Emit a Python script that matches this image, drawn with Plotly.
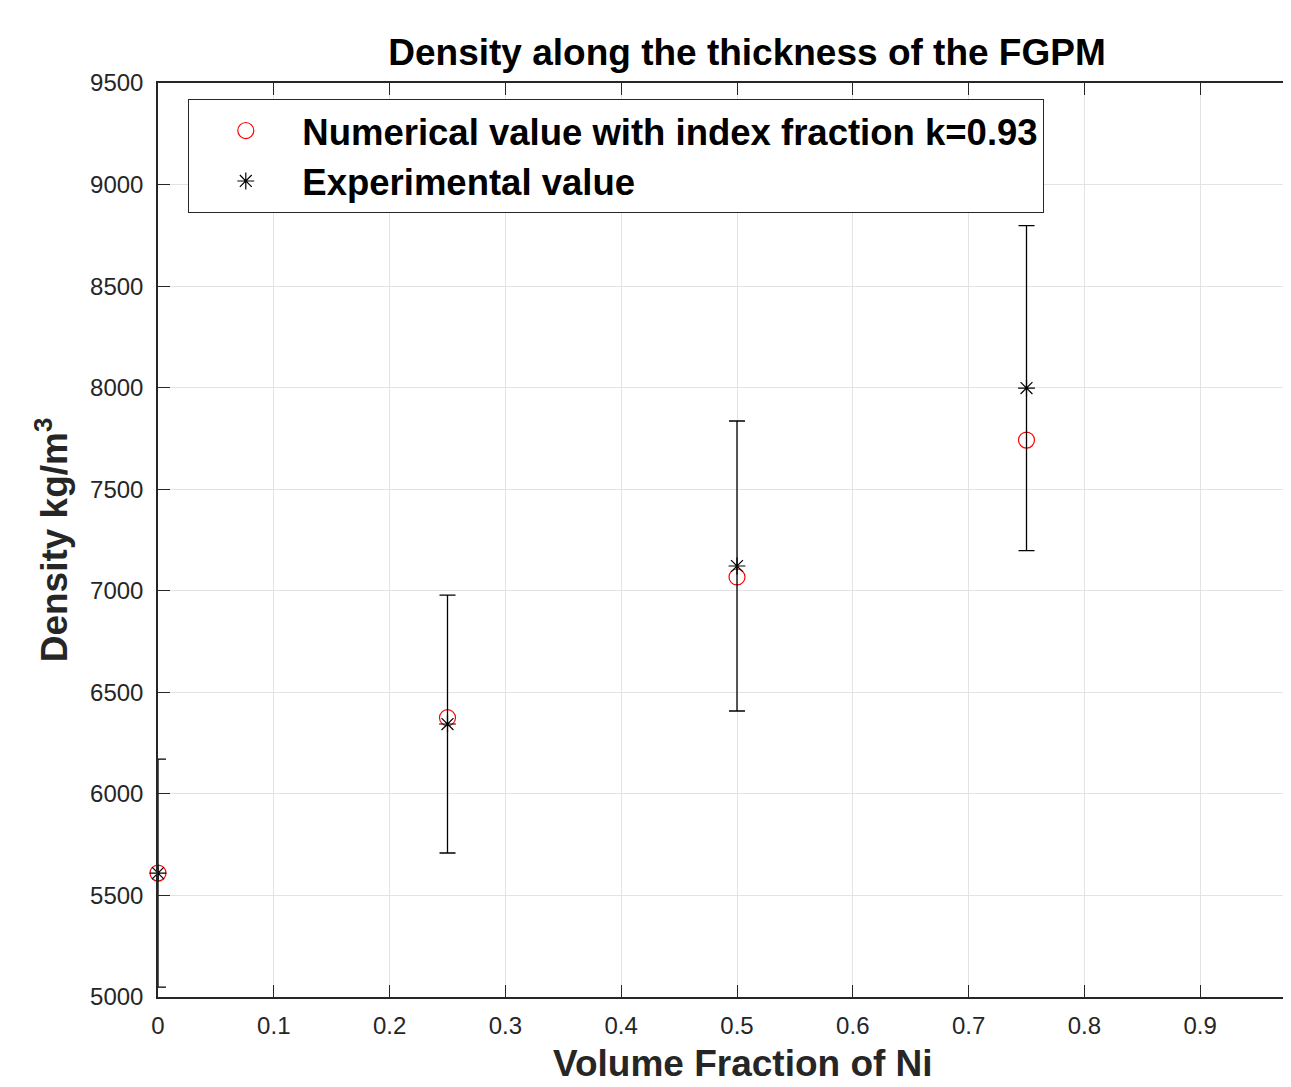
import plotly.graph_objects as go

vol_frac = [0, 0.25, 0.5, 0.75]
numerical = [5610, 6375, 7068, 7742]
experimental = [5610, 6344, 7122, 7998]
exp_error = [561, 635, 714, 800]

x_ticks = [0, 0.1, 0.2, 0.3, 0.4, 0.5, 0.6, 0.7, 0.8, 0.9]
x_tick_labels = ["0", "0.1", "0.2", "0.3", "0.4", "0.5", "0.6", "0.7", "0.8", "0.9"]
y_ticks = [5000, 5500, 6000, 6500, 7000, 7500, 8000, 8500, 9000, 9500]

OFF = 8  # page body margin
W, H = 1291 - OFF, 1087 - OFF
L, R, T, B = 158 - OFF, 0, 83 - OFF, 1087 - 997
PW, PH = W - L - R, H - T - B

fig = go.Figure()
fig.add_trace(go.Scatter(
    x=vol_frac, y=numerical, mode="markers",
    name="Numerical value with index fraction k=0.93",
    cliponaxis=False,
    marker=dict(symbol="circle-open", size=16, color="red", line=dict(width=1.2, color="red")),
))
fig.add_trace(go.Scatter(
    x=vol_frac, y=experimental, mode="markers",
    name="Experimental value",
    cliponaxis=False,
    marker=dict(symbol="asterisk-open", size=14, color="black", line=dict(width=1.2, color="black")),
    error_y=dict(type="data", array=exp_error, visible=True, color="black", thickness=1.3, width=8),
))

axis_color = "#262626"
fig.update_layout(
    width=W, height=H,
    margin=dict(l=L, r=R, t=T, b=B, pad=0),
    paper_bgcolor="white", plot_bgcolor="white",
    font=dict(family="Liberation Sans, Arial, sans-serif", color=axis_color),
    showlegend=True,
    title=dict(text="<b>Density along the thickness of the FGPM</b>",
               x=(747 - OFF) / W, xanchor="center", xref="container",
               y=1 - (52 - OFF) / H, yanchor="middle", yref="container",
               font=dict(size=37, color="black")),
    xaxis=dict(
        range=[0, PW / 1158.0],
        tickvals=x_ticks, ticktext=x_tick_labels,
        showgrid=True, gridcolor="#e3e3e3", gridwidth=1,
        zeroline=False,
        showline=True, linecolor=axis_color, linewidth=1.5,
        mirror="ticks",
        ticks="inside", ticklen=12, tickwidth=1.3, tickcolor=axis_color,
        ticklabelstandoff=6,
        tickfont=dict(size=24, color=axis_color),
    ),
    yaxis=dict(
        range=[5000, 9500],
        tickvals=y_ticks,
        showgrid=True, gridcolor="#e3e3e3", gridwidth=1,
        zeroline=False,
        showline=True, linecolor=axis_color, linewidth=1.5,
        mirror=False,
        ticks="inside", ticklen=12, tickwidth=1.3, tickcolor=axis_color,
        ticklabelstandoff=8,
        tickfont=dict(size=24, color=axis_color),
        title=dict(text="<b>Density kg/m<sup>3</sup></b>", font=dict(size=37, color=axis_color), standoff=11),
    ),
    legend=dict(
        x=(188 - 158) / PW, xanchor="left",
        y=1 - (99 - 83) / PH, yanchor="top",
        bgcolor="white", bordercolor="#262626", borderwidth=1.3,
        font=dict(size=36.5, color="black", family="Liberation Sans, Arial, sans-serif", weight="bold"),
        itemwidth=103, tracegroupgap=0,
    ),
)

fig.add_annotation(
    text="<b>Volume Fraction of Ni</b>",
    xref="paper", yref="paper",
    x=(743 - 158) / PW, y=-(1063 - 997) / PH,
    xanchor="center", yanchor="middle", showarrow=False,
    font=dict(size=37, color=axis_color),
)

fig.write_html("out.html")
